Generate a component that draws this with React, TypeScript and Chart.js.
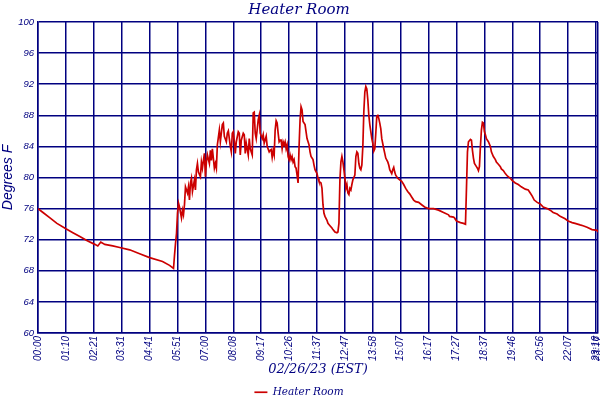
import React, { useEffect, useRef } from "react";
import { Chart, registerables } from "chart.js";

Chart.register(...registerables);

// Tick labels of the time axis and the sample position each one sits on
const timeLabels = [
  "00:00", "01:10", "02:21", "03:31", "04:41", "05:51", "07:00", "08:08",
  "09:17", "10:26", "11:37", "12:47", "13:58", "15:07", "16:17", "17:27",
  "18:37", "19:46", "20:56", "22:07", "23:16", "23:17",
];
const labelSamples = [
  0, 28, 56, 84, 112, 140, 168, 196, 224, 252, 280, 308, 336, 364, 392, 420,
  448, 476, 504, 532, 560, 562,
];

// Sample number (position along the day) and temperature in °F
const sampleIndex = [
  0, 5, 12, 19, 28, 35, 42, 49, 57, 60, 63, 67, 75, 82, 92, 102, 112, 125, 132, 136,
  137, 138, 139, 140, 141, 142, 144, 145, 146, 147, 148, 150, 151, 152, 153, 154, 155, 157, 158, 159,
  160, 161, 163, 164, 165, 167, 168, 169, 170, 172, 173, 174, 175, 177, 178, 179, 180, 182, 183, 184,
  185, 186, 187, 189, 190, 191, 193, 194, 195, 196, 197, 198, 199, 201, 202, 203, 204, 206, 207, 208,
  209, 211, 212, 213, 215, 216, 217, 218, 219, 221, 222, 223, 225, 226, 227, 229, 230, 232, 233, 234,
  235, 236, 237, 238, 239, 240, 241, 242, 243, 244, 245, 246, 247, 248, 249, 250, 251, 252, 253, 254,
  255, 256, 257, 258, 259, 260, 261, 262, 263, 264, 265, 266, 268, 269, 270, 272, 273, 274, 276, 277,
  278, 280, 281, 282, 284, 285, 286, 287, 288, 290, 291, 293, 295, 296, 298, 300, 301, 302, 303, 304,
  305, 306, 307, 308, 309, 310, 311, 312, 313, 314, 315, 316, 318, 319, 320, 321, 322, 323, 324, 325,
  326, 327, 328, 329, 330, 331, 332, 333, 334, 335, 336, 337, 338, 339, 340, 341, 342, 343, 344, 345,
  347, 348, 349, 351, 352, 353, 355, 356, 357, 358, 359, 361, 363, 365, 367, 369, 371, 373, 375, 377,
  379, 382, 385, 388, 392, 397, 402, 407, 412, 413, 417, 418, 420, 424, 427, 429, 430, 431, 432, 434,
  435, 436, 437, 438, 440, 441, 442, 443, 444, 445, 446, 447, 448, 449, 450, 452, 454, 455, 457, 459,
  460, 462, 464, 465, 467, 469, 471, 474, 476, 479, 482, 485, 489, 492, 494, 496, 498, 501, 504, 507,
  511, 514, 517, 521, 524, 529, 532, 536, 539, 544, 547, 551, 556, 561, 562,
];
const temperatureF = [
  76.0, 75.5, 74.8, 74.1, 73.4, 72.9, 72.4, 71.9, 71.4, 71.2, 71.7, 71.4, 71.2, 71.0, 70.7, 70.2, 69.7, 69.2, 68.7, 68.3,
  70.0, 71.5, 72.8, 75.4, 76.7, 76.2, 74.8, 75.8, 75.2, 76.5, 78.8, 78.0, 78.8, 77.1, 79.3, 79.9, 78.2, 79.7, 78.4, 81.0,
  81.8, 80.7, 80.1, 82.0, 81.2, 83.1, 80.1, 82.0, 82.9, 81.8, 83.5, 82.2, 83.7, 81.2, 81.8, 81.2, 84.2, 86.1, 84.6, 85.7,
  86.8, 87.0, 85.3, 84.6, 85.7, 86.0, 84.0, 83.3, 85.7, 85.9, 84.6, 83.1, 84.6, 85.9, 85.7, 82.9, 84.8, 85.7, 85.5, 83.1,
  84.4, 82.9, 85.0, 83.7, 82.9, 88.3, 88.4, 85.7, 85.0, 87.4, 88.0, 85.7, 85.0, 85.5, 84.4, 85.3, 84.0, 83.3, 83.5, 83.6,
  82.6, 83.5, 82.9, 86.1, 87.3, 87.0, 85.7, 84.6, 84.8, 84.8, 83.7, 84.6, 84.2, 84.6, 83.7, 84.2, 82.7, 82.3, 82.9, 82.3,
  82.7, 82.0, 82.3, 81.4, 81.2, 80.3, 79.3, 84.0, 87.4, 89.1, 88.7, 87.2, 86.8, 85.9, 85.0, 84.2, 83.3, 82.7, 82.3, 81.6,
  81.0, 80.5, 79.9, 79.5, 79.3, 78.6, 76.5, 75.4, 75.0, 74.5, 74.1, 73.8, 73.5, 73.3, 73.0, 72.9, 73.0, 74.1, 79.7, 82.0,
  82.7, 82.0, 81.0, 79.9, 78.6, 79.1, 78.0, 77.8, 78.6, 78.4, 79.1, 79.7, 80.3, 82.7, 83.3, 83.1, 81.8, 81.2, 81.0, 81.6,
  84.0, 88.5, 91.0, 91.7, 91.4, 90.0, 88.0, 86.8, 85.9, 85.0, 84.4, 83.4, 83.7, 85.7, 87.9, 88.0, 87.6, 87.0, 86.3, 85.0,
  83.7, 83.1, 82.5, 82.0, 81.6, 81.0, 80.5, 81.0, 81.3, 80.7, 80.3, 79.9, 79.7, 79.5, 79.1, 78.6, 78.2, 77.9, 77.5, 77.1,
  76.9, 76.8, 76.5, 76.2, 76.0, 76.0, 75.8, 75.5, 75.2, 75.0, 74.9, 74.8, 74.4, 74.2, 74.1, 74.0, 78.6, 83.3, 84.6, 84.9,
  84.8, 83.5, 82.5, 81.8, 81.4, 81.2, 80.9, 81.4, 84.0, 86.1, 87.1, 87.0, 85.9, 85.5, 85.0, 84.6, 84.0, 83.3, 82.7, 82.3,
  82.0, 81.7, 81.4, 81.1, 80.9, 80.5, 80.2, 79.9, 79.6, 79.3, 79.1, 78.8, 78.5, 78.4, 78.0, 77.6, 77.1, 76.8, 76.6, 76.2,
  76.0, 75.8, 75.5, 75.3, 75.0, 74.7, 74.4, 74.2, 74.1, 73.9, 73.8, 73.6, 73.3, 73.2, 73.0,
];

const yMin = 60;
const yMax = 100;
const yStep = 4;

const NAVY = "#000080";
const RED = "#cc0000";

export default function App() {
  const canvasRef = useRef<HTMLCanvasElement>(null);

  useEffect(() => {
    const canvas = canvasRef.current;
    if (!canvas) return;
    const points = sampleIndex.map((x, i) => ({ x, y: temperatureF[i] }));
    const chart = new Chart(canvas, {
      type: "line",
      data: {
        datasets: [
          {
            label: "Heater Room",
            data: points,
            borderColor: RED,
            backgroundColor: RED,
            borderWidth: 1.7,
            pointRadius: 0,
            pointStyle: "line",
            tension: 0,
            fill: false,
          },
        ],
      },
      options: {
        animation: false,
        responsive: false,
        events: [],
        layout: { padding: { left: 0, right: 2, top: 0, bottom: 0 } },
        plugins: {
          title: {
            display: true,
            text: "Heater Room",
            color: NAVY,
            font: { family: "DejaVu Serif", style: "italic", weight: "normal", size: 15 },
            padding: { top: 1, bottom: 3 },
          },
          legend: {
            position: "bottom",
            maxHeight: 15,
            labels: {
              color: NAVY,
              usePointStyle: true,
              pointStyleWidth: 13,
              boxHeight: 11,
              padding: 2,
              font: { family: "DejaVu Serif", style: "italic", weight: "normal", size: 10.5 },
            },
          },
          tooltip: { enabled: false },
        },
        scales: {
          x: {
            type: "linear",
            min: 0,
            max: 562,
            afterBuildTicks: (axis: any) => {
              axis.ticks = labelSamples.map((v) => ({ value: v }));
            },
            afterFit: (axis: any) => {
              axis.height = 52;
              axis.paddingLeft = 0;
              axis.paddingRight = 0;
            },
            ticks: {
              autoSkip: false,
              minRotation: 90,
              maxRotation: 90,
              padding: 3,
              color: NAVY,
              font: { family: "Liberation Sans", style: "italic", size: 10 },
              callback: (_v: any, i: number) => timeLabels[i],
            },
            grid: { color: NAVY, lineWidth: 1.5, drawTicks: false },
            border: { color: NAVY, width: 1.5 },
            title: {
              display: true,
              text: "02/26/23 (EST)",
              color: NAVY,
              font: { family: "DejaVu Serif", style: "italic", size: 13 },
              padding: { top: 0, bottom: 8 },
            },
          },
          y: {
            min: yMin,
            max: yMax,
            afterFit: (axis: any) => {
              axis.width = 38;
            },
            ticks: {
              stepSize: yStep,
              padding: 4,
              color: NAVY,
              font: { family: "Liberation Sans", style: "italic", size: 9.5 },
            },
            grid: { color: NAVY, lineWidth: 1.5, drawTicks: false },
            border: { color: NAVY, width: 1.5 },
            title: {
              display: true,
              text: "Degrees F",
              color: NAVY,
              font: { family: "Liberation Sans", style: "italic", size: 14 },
              padding: { top: 0, bottom: 0 },
            },
          },
        },
      },
    });
    return () => chart.destroy();
  }, []);

  return (
    <div style={{ position: "fixed", left: 0, top: 0, width: 600, height: 400, background: "#ffffff" }}>
      <canvas ref={canvasRef} width={600} height={400} style={{ width: 600, height: 400, display: "block" }} />
    </div>
  );
}
